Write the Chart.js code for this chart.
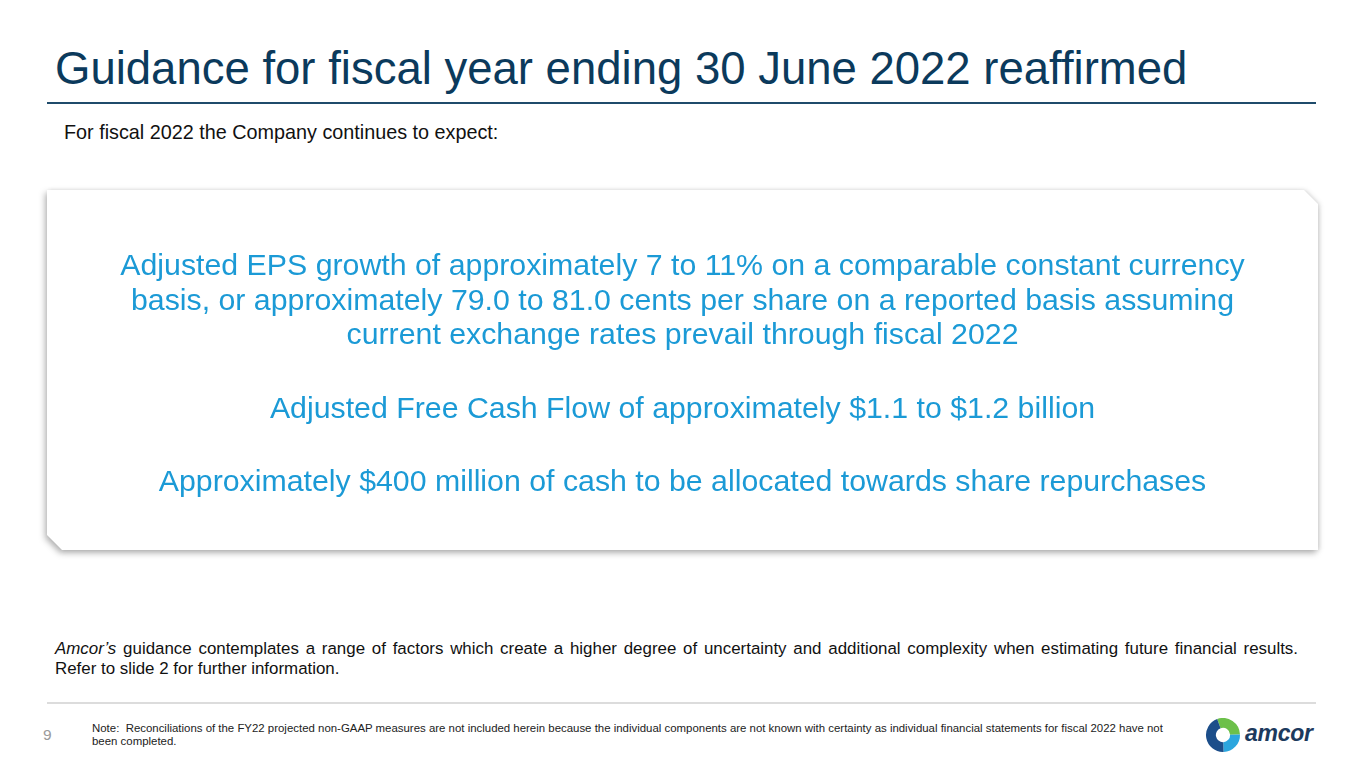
<!DOCTYPE html>
<html>
<head>
<meta charset="utf-8">
<script src="https://cdn.jsdelivr.net/npm/chart.js@4.4.0/dist/chart.umd.min.js"></script>
<style>
  html, body { margin:0; padding:0; background:#fff; }
  body { width:1365px; height:768px; position:relative; overflow:hidden; font-family:"Liberation Sans", Arial, sans-serif; }
  #title { position:absolute; left:55px; top:41px; font-size:45.5px; color:#0B3A5C; white-space:nowrap; line-height:56px; }
  #rule { position:absolute; left:47px; top:102px; width:1269px; height:2px; background:#1F4B6B; }
  #sub { position:absolute; left:64px; top:121px; font-size:19.8px; color:#111; white-space:nowrap; }
  #boxwrap { position:absolute; left:47px; top:190px; width:1271px; height:360px;
             filter: drop-shadow(-2px 3px 3px rgba(0,0,0,0.28)) drop-shadow(2px 0px 2px rgba(0,0,0,0.12)); }
  #box { width:100%; height:100%; background:#fff; position:relative;
         clip-path: polygon(0 0, calc(100% - 14px) 0, 100% 14px, 100% 100%, 15px 100%, 0 calc(100% - 15px)); }
  .bl { position:absolute; left:0; width:100%; text-align:center; font-size:30.3px; line-height:36px; color:#1B9AD6; white-space:nowrap; }
  #para { position:absolute; left:55px; top:639px; width:1243px; font-size:16.9px; color:#111; line-height:20px; }
  #para .l1 { text-align:justify; text-align-last:justify; white-space:nowrap; }
  #para .l2 { text-align:left; white-space:nowrap; }
  #frule { position:absolute; left:47px; top:702px; width:1269px; height:2px; background:#DCDCDC; }
  #pnum { position:absolute; left:43px; top:726px; font-size:15.5px; color:#9A9A9A; }
  #note { position:absolute; left:92px; top:722px; width:1078px; font-size:11.43px; color:#222; line-height:12.5px; }
  #logo { position:absolute; left:1205px; top:718px; width:36px; height:34px; }
  #logotxt { position:absolute; left:1245px; top:720px; font-size:23px; font-weight:bold; font-style:italic; color:#1C3A5E; letter-spacing:-0.3px; }
</style>
</head>
<body>
<div id="title"></div>
<div id="rule"></div>
<div id="sub"></div>
<div id="boxwrap"><div id="box"></div></div>
<div id="para"><div class="l1"></div><div class="l2"></div></div>
<div id="frule"></div>
<div id="pnum"></div>
<div id="note"></div>
<div id="logo"><canvas id="logoChart" width="36" height="34"></canvas></div>
<div id="logotxt">amcor</div>
<script>
const titleText = "Guidance for fiscal year ending 30 June 2022 reaffirmed";
const subText = "For fiscal 2022 the Company continues to expect:";
const guidanceLines = [
  "Adjusted EPS growth of approximately 7 to 11% on a comparable constant currency",
  "basis, or approximately 79.0 to 81.0 cents per share on a reported basis assuming",
  "current exchange rates prevail through fiscal 2022",
  "",
  "Adjusted Free Cash Flow of approximately $1.1 to $1.2 billion",
  "",
  "Approximately $400 million of cash to be allocated towards share repurchases"
];
const paraLine1 = "<i>Amcor\u2019s</i> guidance contemplates a range of factors which create a higher degree of uncertainty and additional complexity when estimating future financial results.";
const paraLine2 = "Refer to slide 2 for further information.";
const noteText = "Note:&nbsp; Reconciliations of the FY22 projected non-GAAP measures are not included herein because the individual components are not known with certainty as individual financial statements for fiscal 2022 have not been completed.";
const pageNumber = "9";
const logoSegments = [30, 25, 45];
const logoColors = ["#6CC04A", "#2BA6DE", "#1C4E8A"];

document.getElementById('title').textContent = titleText;
document.getElementById('sub').textContent = subText;
document.querySelector('#para .l1').innerHTML = paraLine1;
document.querySelector('#para .l2').textContent = paraLine2;
document.getElementById('note').innerHTML = noteText;
document.getElementById('pnum').textContent = pageNumber;

const box = document.getElementById('box');
const lineCenters = [265, 300, 334, 371, 408, 444, 481];
guidanceLines.forEach((t, i) => {
  if (!t) return;
  const d = document.createElement('div');
  d.className = 'bl';
  d.style.top = (lineCenters[i] - 190 - 18) + 'px';
  d.textContent = t;
  box.appendChild(d);
});

new Chart(document.getElementById('logoChart'), {
  type: 'doughnut',
  data: { labels: ['a','b','c'], datasets: [{ data: logoSegments, backgroundColor: logoColors, borderWidth: 0 }] },
  options: { responsive:false, animation:false, cutout:'42%', rotation:-20,
             plugins:{ legend:{display:false}, tooltip:{enabled:false} } }
});
</script>
</body>
</html>
